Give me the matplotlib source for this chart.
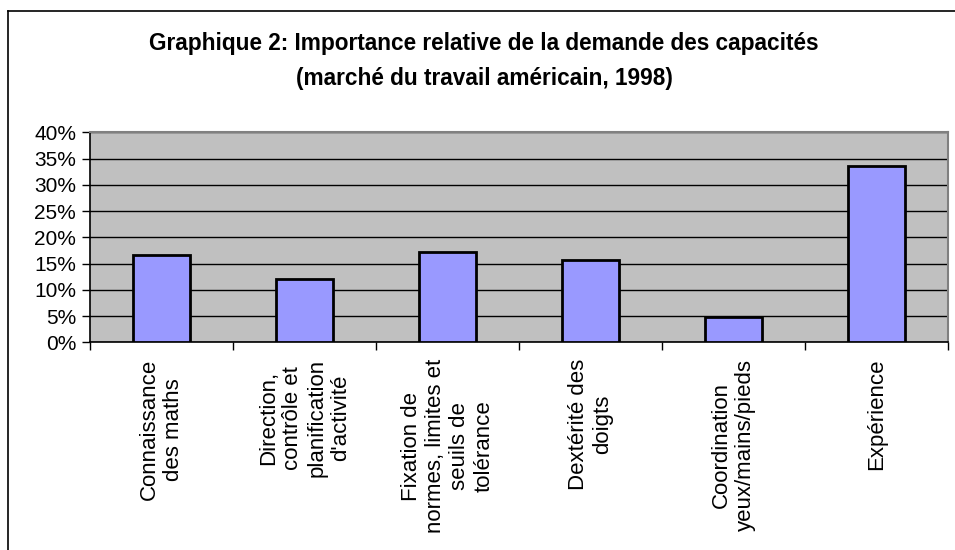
import numpy as np
import matplotlib.pyplot as plt
from matplotlib.lines import Line2D
from matplotlib.ticker import PercentFormatter, MultipleLocator

# DATA
categories = [
    "Connaissance\ndes maths",
    "Direction,\ncontrôle et\nplanification\nd'activité",
    "Fixation de\nnormes, limites et\nseuils de\ntolérance",
    "Dextérité des\ndoigts",
    "Coordination\nyeux/mains/pieds",
    "Expérience",
]
shares = [16.6, 12.1, 17.2, 15.7, 4.9, 33.6]

title = ("Graphique 2: Importance relative de la demande des capacités\n"
         "(marché du travail américain, 1998)")

plt.rcParams["font.family"] = ["Liberation Sans", "DejaVu Sans"]

fig = plt.figure(figsize=(9.55, 5.5), dpi=100)
ax = fig.add_axes([0.0942, 0.3776, 0.8985, 0.3819])

ax.set_facecolor("#C0C0C0")

x = np.arange(len(categories))
ax.bar(x, shares, width=0.4, color="#9999FF", edgecolor="black",
       linewidth=2, zorder=3)

# AXES
ax.set_xlim(-0.5, len(categories) - 0.5)
ax.set_ylim(0, 40)
ax.yaxis.set_major_locator(MultipleLocator(5))
ax.yaxis.set_major_formatter(PercentFormatter(decimals=0))

ax.grid(axis="y", color="black", linewidth=1, zorder=1)

ax.set_xticks(x)
ax.set_xticklabels(categories, rotation=90, fontsize=16,
                   multialignment="center", linespacing=1.2)
ax.set_xticks(np.arange(-0.5, len(categories)), minor=True)
ax.tick_params(axis="x", which="major", length=0, pad=12)
ax.tick_params(axis="x", which="minor", length=6, width=1, direction="out")
ax.tick_params(axis="y", labelsize=15, length=6, width=1,
               direction="out", pad=4)

for side in ["top", "right"]:
    ax.spines[side].set_color("#808080")
    ax.spines[side].set_linewidth(1.5)
ax.spines["left"].set_linewidth(1.2)
ax.spines["bottom"].set_linewidth(1.2)

# TITLE
fig.text(0.507, 0.889, title, ha="center", va="center",
         fontsize=16.3, fontweight="bold", linespacing=1.7)

# CHART FRAME (left and top edges)
fig.add_artist(Line2D([0.0084, 0.0084], [0.0, 0.98], color="black",
                      linewidth=1.2, transform=fig.transFigure))
fig.add_artist(Line2D([0.0084, 1.0], [0.98, 0.98], color="black",
                      linewidth=1.2, transform=fig.transFigure))

plt.savefig("out.png", dpi=100, facecolor="white")
plt.close()
